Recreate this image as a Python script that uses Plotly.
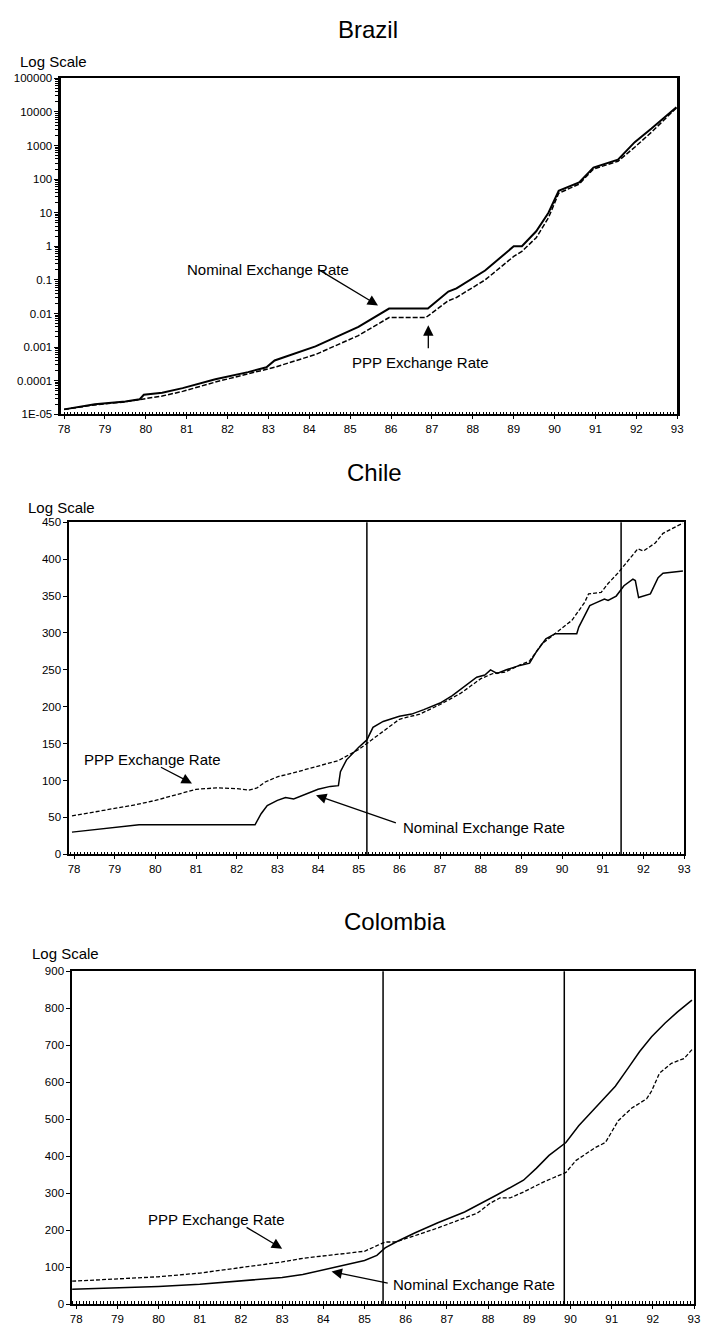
import plotly.graph_objects as go

# ---------------- data ----------------
# Brazil (log scale)
brazil_nom_years = [78.0, 78.75, 79.5, 79.85, 79.95, 80.4, 80.9, 81.7, 82.5, 82.95, 83.15, 84.15, 85.2,
                    85.95, 86.9, 87.4, 87.6, 88.3, 89.0, 89.2, 89.55, 89.85, 90.1, 90.6, 90.95, 91.55,
                    91.96, 92.37, 92.98]
brazil_nom = [1.4e-5, 2.0e-5, 2.4e-5, 2.8e-5, 3.8e-5, 4.4e-5, 6.0e-5, 1.1e-4, 1.8e-4, 2.5e-4, 4.0e-4,
              1.05e-3, 4.0e-3, 0.014, 0.014, 0.045, 0.056, 0.19, 1.0, 1.0, 2.8, 10, 45, 80, 220, 380,
              1260, 3200, 13800]
brazil_ppp_years = [78.0, 78.75, 79.5, 80.4, 80.9, 81.7, 82.5, 83.15, 84.15, 85.2, 85.95, 86.85, 87.4,
                    87.6, 88.3, 89.0, 89.2, 89.55, 89.85, 90.1, 90.6, 90.95, 91.55, 91.96, 92.37, 92.98]
brazil_ppp = [1.4e-5, 1.9e-5, 2.35e-5, 3.5e-5, 4.8e-5, 9.1e-5, 1.6e-4, 2.5e-4, 6.0e-4, 2.2e-3, 7.6e-3,
              7.6e-3, 0.024, 0.030, 0.10, 0.50, 0.71, 1.8, 7.1, 38, 71, 200, 340, 890, 2500, 13200]

# Chile
chile_nom_years = [77.95, 78.5, 79.0, 79.6, 80.0, 81.0, 82.0, 82.45, 82.6, 82.75, 83.0, 83.2, 83.4, 83.7,
                   84.0, 84.3, 84.5, 84.55, 84.7, 85.0, 85.2, 85.35, 85.6, 86.0, 86.3, 86.6, 87.0, 87.3,
                   87.6, 87.9, 88.1, 88.24, 88.4, 88.63, 88.96, 89.2, 89.35, 89.6, 89.83, 90.36, 90.41,
                   90.68, 90.8, 91.04, 91.13, 91.33, 91.52, 91.74, 91.8, 91.88, 92.17, 92.36, 92.48, 92.97]
chile_nom = [30, 33, 36, 40, 40, 40, 40, 40, 55, 66, 73, 77, 75, 82, 88, 92, 93, 112, 128, 145, 155, 172,
             180, 187, 190, 196, 205, 215, 228, 240, 243, 250, 245, 250, 256, 259, 273, 292, 299, 299, 308,
             337, 340, 346, 344, 350, 364, 373, 371, 348, 353, 375, 381, 384]
chile_ppp_years = [77.95, 78.5, 79.0, 79.5, 80.0, 80.5, 81.0, 81.5, 82.0, 82.3, 82.5, 82.7, 83.0, 83.5,
                   84.0, 84.5, 85.0, 85.2, 85.5, 85.8, 86.0, 86.5, 87.0, 87.5, 88.0, 88.3, 88.6, 88.9,
                   89.2, 89.5, 89.83, 90.24, 90.55, 90.65, 90.96, 91.13, 91.37, 91.7, 91.86, 92.0, 92.29,
                   92.48, 92.97]
chile_ppp = [52, 57, 62, 67, 73, 80, 88, 90, 89, 87, 90, 98, 105, 112, 120, 127, 142, 150, 163, 175, 183,
             190, 203, 218, 238, 245, 247, 255, 262, 285, 299, 317, 341, 353, 355, 367, 381, 404, 414, 411,
             422, 435, 449]
chile_breaks = [85.2, 91.45]

# Colombia
colombia_nom_years = [77.9, 79, 80, 81, 82, 83, 83.5, 84, 84.5, 85, 85.3, 85.5, 85.8, 86.23, 86.78, 87.43,
                      88.21, 88.86, 89.17, 89.48, 89.89, 90.2, 90.6, 91.09, 91.4, 91.68, 91.97, 92.3,
                      92.6, 92.95]
colombia_nom = [40, 44, 48, 54, 62, 72, 80, 92, 105, 118, 132, 152, 170, 193, 220, 249, 295, 335, 367,
                402, 437, 482, 530, 589, 638, 683, 723, 760, 790, 822]
colombia_ppp_years = [77.9, 79, 80, 81, 82, 83, 83.5, 84, 84.5, 85, 85.3, 85.5, 85.75, 86.0, 86.3, 86.78,
                      87.43, 87.74, 88.05, 88.29, 88.53, 88.86, 89.34, 89.89, 90.13, 90.6, 90.85, 91.16,
                      91.49, 91.85, 91.97, 92.16, 92.45, 92.76, 92.95]
colombia_ppp = [62, 68, 74, 84, 98, 114, 124, 130, 138, 143, 158, 168, 168, 178, 188, 206, 233, 246, 273,
                287, 287, 303, 330, 356, 388, 423, 437, 496, 530, 555, 576, 624, 651, 664, 688]
colombia_breaks = [85.45, 89.85]

year_ticks = list(range(78, 94))
year_labels = [str(y) for y in year_ticks]
brazil_ticks = [1e-5, 1e-4, 1e-3, 1e-2, 1e-1, 1, 10, 100, 1000, 10000, 100000]
brazil_labels = ["1E-05", "0.0001", "0.001", "0.01", "0.1", "1", "10", "100", "1000", "10000", "100000"]

# ---------------- figure ----------------
W, H = 701, 1327
FONT = "Liberation Sans, Arial, Helvetica, sans-serif"


def px(x):
    return x / W


def py(y):
    return 1 - y / H


fig = go.Figure()

solid = dict(color="black", width=1.5)
dashed = dict(color="black", width=1.3, dash="4px,2px")

fig.add_trace(go.Scatter(x=brazil_nom_years, y=brazil_nom, mode="lines", line=dict(color="black", width=2),
                         xaxis="x", yaxis="y"))
fig.add_trace(go.Scatter(x=brazil_ppp_years, y=brazil_ppp, mode="lines",
                         line=dict(color="black", width=1.5, dash="5px,2px"), xaxis="x", yaxis="y"))
fig.add_trace(go.Scatter(x=chile_nom_years, y=chile_nom, mode="lines", line=solid, xaxis="x2", yaxis="y2"))
fig.add_trace(go.Scatter(x=chile_ppp_years, y=chile_ppp, mode="lines", line=dashed, xaxis="x2", yaxis="y2"))
fig.add_trace(go.Scatter(x=colombia_nom_years, y=colombia_nom, mode="lines", line=solid, xaxis="x3", yaxis="y3"))
fig.add_trace(go.Scatter(x=colombia_ppp_years, y=colombia_ppp, mode="lines", line=dashed, xaxis="x3", yaxis="y3"))

tickfont = dict(family=FONT, size=11.5, color="black")

xcommon = dict(showline=True, linecolor="black", linewidth=1.5, mirror=True, showgrid=False, zeroline=False,
               tickvals=year_ticks, ticktext=year_labels, ticks="outside", ticklen=3, tickcolor="black",
               tickfont=tickfont,
               minor=dict(dtick=1 / 12, tick0=78, ticks="inside", ticklen=3, tickcolor="black", showgrid=False))
ycommon = dict(showline=True, linecolor="black", linewidth=1.5, mirror=True, showgrid=False, zeroline=False,
               ticks="outside", ticklen=4, tickcolor="black", tickfont=tickfont)

log_minor = [m * 10 ** e for e in range(-5, 5) for m in range(2, 10)]

fig.update_layout(
    width=W, height=H, margin=dict(l=0, r=0, t=0, b=0),
    paper_bgcolor="white", plot_bgcolor="white", showlegend=False,
    font=dict(family=FONT, color="black"),
    xaxis=dict(xcommon, domain=[px(59), px(683)], range=[77.93, 93.0], anchor="y"),
    yaxis=dict(ycommon, domain=[py(412), py(73)], type="log", range=[-5, 5],
               tickvals=brazil_ticks, ticktext=brazil_labels, linewidth=2.5, anchor="x",
               minor=dict(tickvals=log_minor, ticks="outside", ticklen=3, tickcolor="black", showgrid=False)),
    xaxis2=dict(xcommon, domain=[px(67), px(690)], range=[77.88, 93.0], anchor="y2"),
    yaxis2=dict(ycommon, domain=[py(856), py(521)], range=[0, 450], dtick=50, anchor="x2"),
    xaxis3=dict(xcommon, domain=[px(70), px(700)], range=[77.9, 93.0], anchor="y3",
                ticklabeloverflow="allow"),
    yaxis3=dict(ycommon, domain=[py(1310), py(974)], range=[0, 900], dtick=100, anchor="x3"),
)

# structural break markers
for xb in chile_breaks:
    fig.add_shape(type="line", xref="x2", yref="y2 domain", x0=xb, x1=xb, y0=0, y1=1,
                  line=dict(color="black", width=1.5))
for xb in colombia_breaks:
    fig.add_shape(type="line", xref="x3", yref="y3 domain", x0=xb, x1=xb, y0=0, y1=1,
                  line=dict(color="black", width=1.5))

# panel titles and axis captions
for name, cx, cy in [("Brazil", 370, 24), ("Chile", 376, 471), ("Colombia", 397, 924)]:
    fig.add_annotation(text=name, xref="paper", yref="paper", x=px(cx), y=py(cy), showarrow=False,
                       xanchor="center", yanchor="middle", font=dict(family=FONT, size=24, color="black"))
for lx, ly in [(15, 56), (23, 506), (27, 956)]:
    fig.add_annotation(text="Log Scale", xref="paper", yref="paper", x=px(lx), y=py(ly), showarrow=False,
                       xanchor="left", yanchor="middle", font=dict(family=FONT, size=15, color="black"))

lab_font = dict(family=FONT, size=15, color="black")


def label(text, x, y, xa, ya, xanchor="center"):
    fig.add_annotation(text=text, x=x, y=y, xref=xa, yref=ya, showarrow=False, xanchor=xanchor,
                       yanchor="middle", font=lab_font)


def arrow(x0, y0, x1, y1, xa, ya):
    fig.add_annotation(text="", x=x1, y=y1, ax=x0, ay=y0, xref=xa, yref=ya, axref=xa, ayref=ya,
                       showarrow=True, arrowhead=2, arrowsize=1.6, arrowwidth=1.3, arrowcolor="black",
                       standoff=0, startstandoff=0)


# Brazil labels (log axis: coordinates in log10 units)
label("Nominal Exchange Rate", 82.98, -0.69, "x", "y")
arrow(84.18, -0.66, 85.68, -1.76, "x", "y")
label("PPP Exchange Rate", 86.7, -3.47, "x", "y")
arrow(86.91, -3.08, 86.91, -2.35, "x", "y")

# Chile labels
label("PPP Exchange Rate", 78.2, 128, "x2", "y2", xanchor="left")
arrow(80.1, 119, 80.9, 96, "x2", "y2")
label("Nominal Exchange Rate", 86.05, 36, "x2", "y2", xanchor="left")
arrow(85.95, 42, 83.95, 80, "x2", "y2")

# Colombia labels
label("PPP Exchange Rate", 79.7, 228, "x3", "y3", xanchor="left")
arrow(82.1, 210, 83.0, 150, "x3", "y3")
label("Nominal Exchange Rate", 85.65, 54, "x3", "y3", xanchor="left")
arrow(85.6, 56, 84.2, 88, "x3", "y3")

fig.write_html("out.html")
